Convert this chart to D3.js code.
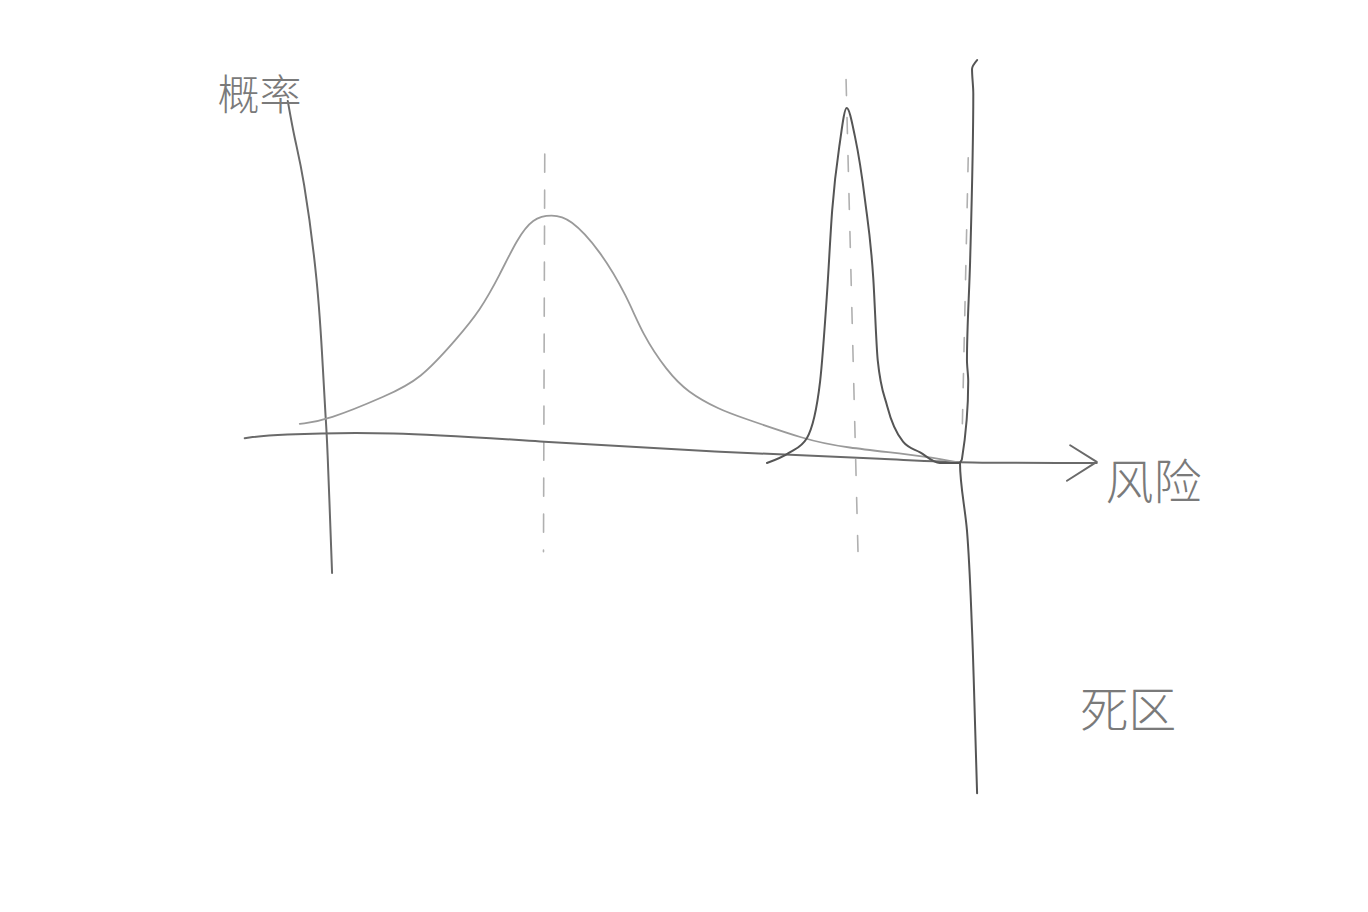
<!DOCTYPE html>
<html>
<head>
<meta charset="utf-8">
<script src="https://cdn.jsdelivr.net/npm/d3@7"></script>
<style>
  html, body { margin: 0; padding: 0; background: #fff; }
  svg { display: block; }
</style>
</head>
<body>
<svg id="chart" width="1368" height="912"></svg>
<script>
// ---- data (risk units on x, probability units on y) ----
const yAxisPts   = [[-0.62,1.02],[-0.51,0.91],[-0.38,0.82],[-0.14,0.51],[-0.06,0.25],[-0.02,0.12],[0,0.08],[0.08,-0.31]];
const xAxisPts   = [[-1.30,0.07],[-0.85,0.08],[0.95,0.09],[3.36,0.06],[6.21,0.03],[9.05,0.01],[10,0],[12.16,0]];
const arrowPts   = [[11.74,0.05],[12.16,0.003],[11.69,-0.05]];
const wideCurve  = [[-0.43,0.11],[-0.43,0.11],[0,0.12],[0.95,0.19],[1.47,0.235],[2.05,0.35],[2.42,0.43],[2.73,0.53],[3.00,0.63],[3.25,0.69],[3.55,0.70],[3.84,0.69],[4.31,0.60],[4.74,0.47],[4.99,0.36],[5.37,0.26],[5.69,0.20],[6.21,0.15],[6.52,0.13],[7.58,0.065],[8.10,0.045],[9.57,0.017],[10,0],[10,0]];
const narrowCurve= [[6.95,0],[7.31,0.03],[7.58,0.07],[7.79,0.23],[7.90,0.48],[7.98,0.71],[8.10,0.90],[8.21,1.00],[8.34,0.92],[8.50,0.74],[8.63,0.52],[8.70,0.29],[8.85,0.16],[9.10,0.06],[9.37,0.03],[9.68,0],[10,0]];
const wideMean   = [[3.44,0.87],[3.42,-0.25]];
const narrowMean = [[8.20,1.08],[8.39,-0.26]];
const deadDashed = [[10.13,0.86],[10.03,0.05]];
const deadLine   = [[10.27,1.135],[10.19,1.11],[10.21,1.04],[10.16,0.57],[10.11,0.29],[10.13,0.23],[10.03,0.01],[10,0],[10.11,-0.19],[10.19,-0.47],[10.24,-0.75],[10.27,-0.93]];
const labels     = [
  {text: "概率", r: -1.73, p: 0.995, size: 42},
  {text: "风险", r: 12.3,  p: -0.10, size: 48},
  {text: "死区", r: 11.9,  p: -0.745, size: 48}
];

// ---- scales ----
const x = d3.scaleLinear().domain([0, 10]).range([327, 960]);
const y = d3.scaleLinear().domain([0, 1]).range([463, 108]);

const svg = d3.select("#chart");
const smoothX = d3.line().x(d => x(d[0])).y(d => y(d[1])).curve(d3.curveMonotoneX);
const smoothY = d3.line().x(d => x(d[0])).y(d => y(d[1])).curve(d3.curveMonotoneY);
const basis = d3.line().x(d => x(d[0])).y(d => y(d[1])).curve(d3.curveBasis);
const straight = d3.line().x(d => x(d[0])).y(d => y(d[1]));

function draw(pts, gen, color, width, dash) {
  svg.append("path")
    .attr("d", gen(pts))
    .attr("fill", "none")
    .attr("stroke", color)
    .attr("stroke-width", width)
    .attr("stroke-linecap", "round")
    .attr("stroke-linejoin", "round")
    .attr("stroke-dasharray", dash || null);
}

// dashed guide lines
draw(wideMean, straight, "#b0b0b0", 1.6, "18,18");
draw(narrowMean, straight, "#b0b0b0", 1.6, "16,22");
draw(deadDashed, straight, "#b0b0b0", 1.6, "14,22");

// axes
draw(yAxisPts, basis, "#6a6a6a", 2);
draw(xAxisPts, basis, "#6a6a6a", 2);
draw(arrowPts, straight, "#6a6a6a", 2);

// distributions
draw(wideCurve, basis, "#9a9a9a", 1.8);
draw(narrowCurve, smoothX, "#555", 2);

// dead zone line
draw(deadLine, smoothY, "#555", 2);

// labels
svg.selectAll("text.lbl").data(labels).enter().append("text")
  .attr("class", "lbl")
  .attr("x", d => x(d.r))
  .attr("y", d => y(d.p))
  .attr("font-family", "'Noto Sans CJK SC', sans-serif")
  .attr("font-weight", 300)
  .attr("font-size", d => d.size)
  .attr("fill", "#7a7a7a")
  .text(d => d.text);
</script>
</body>
</html>
